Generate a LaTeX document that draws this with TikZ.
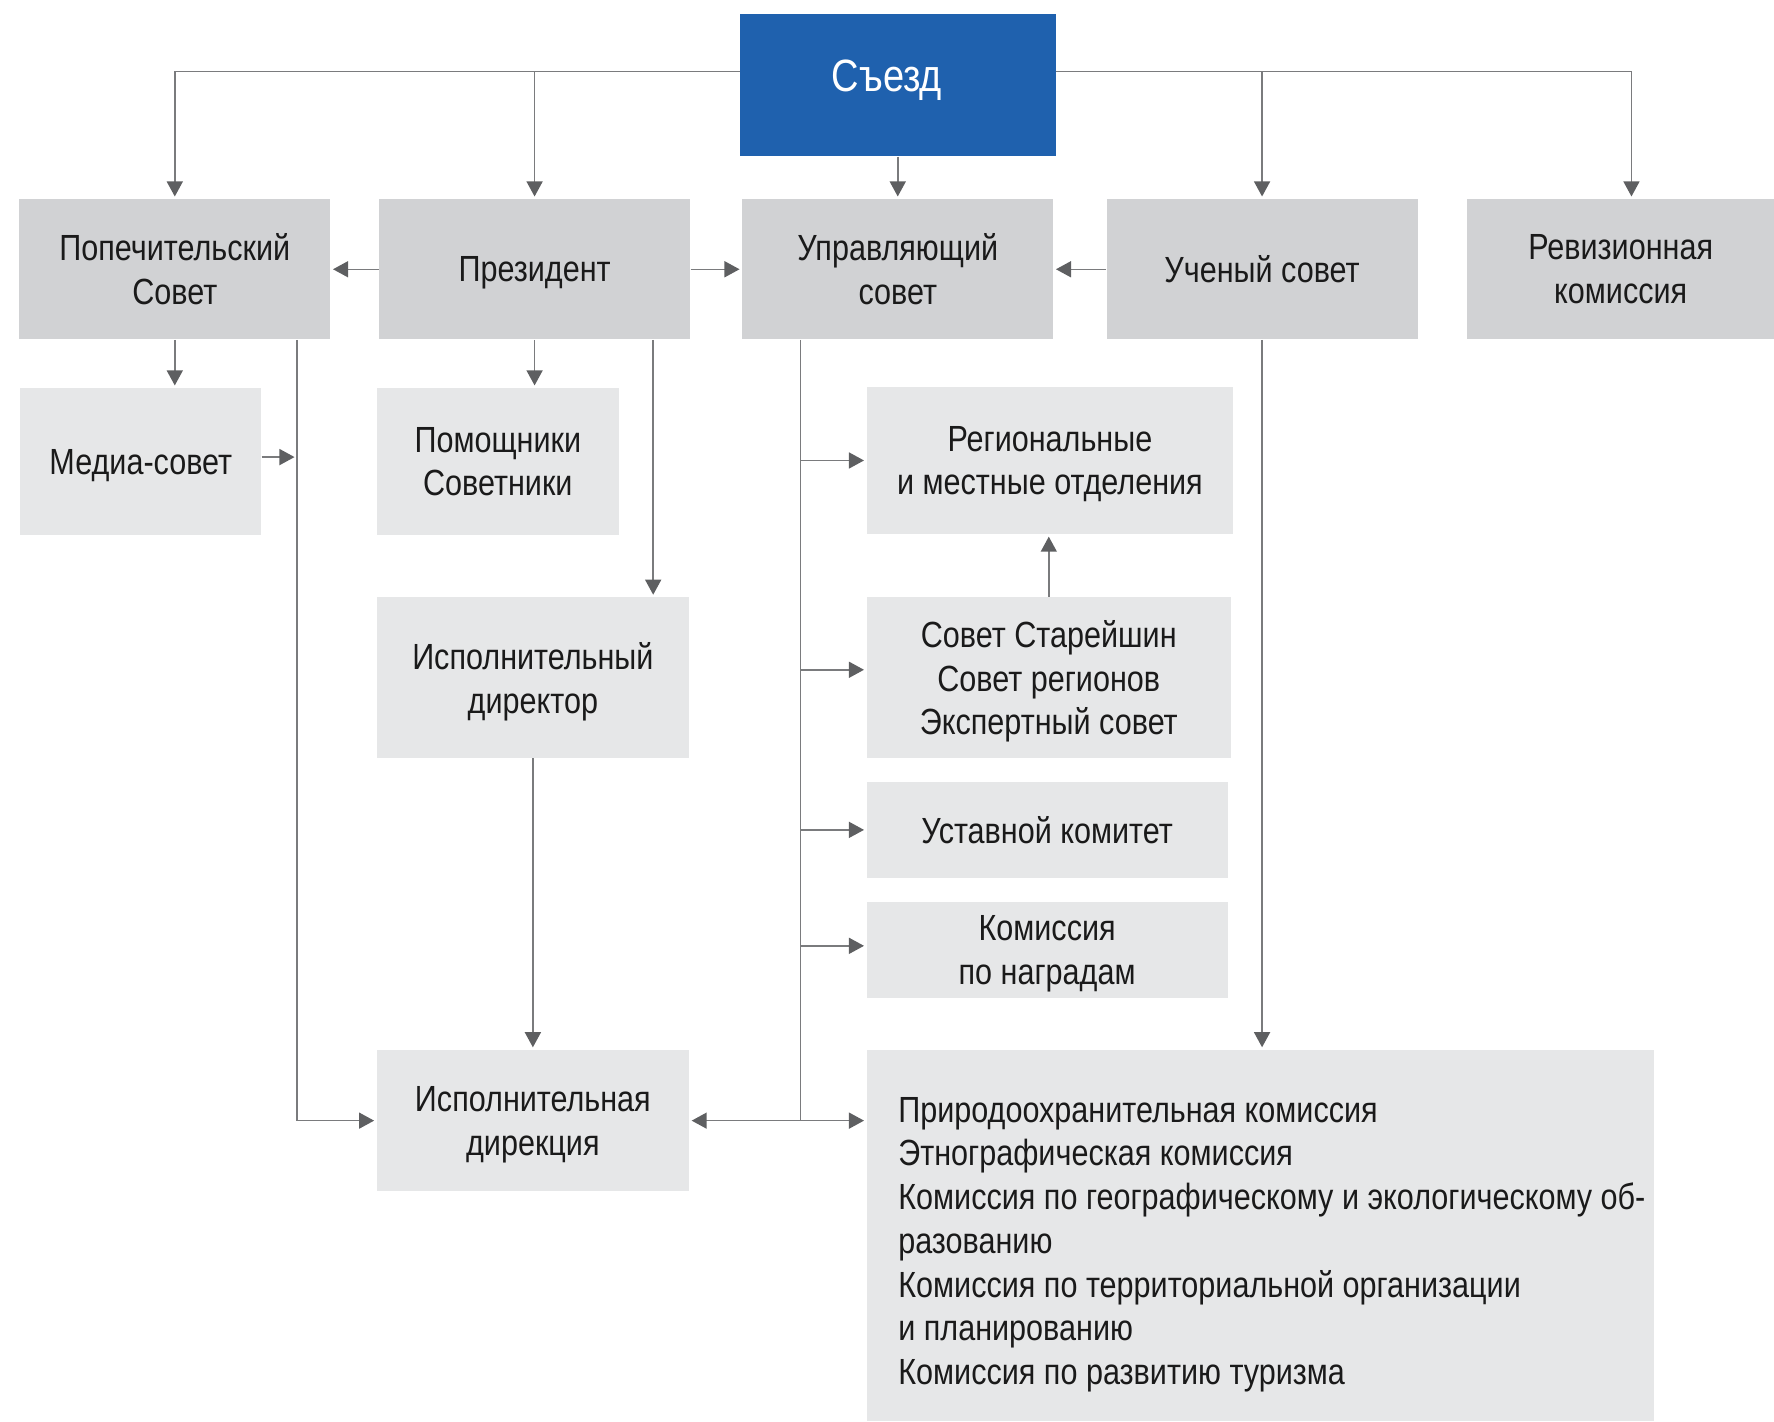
\documentclass[tikz,border=0pt]{standalone}
\usepackage{fontspec}
\setmainfont{Liberation Sans}[FakeStretch=0.84]
\usetikzlibrary{arrows.meta,calc}
\definecolor{sblue}{HTML}{1F61AE}
\definecolor{gdark}{HTML}{D1D2D4}
\definecolor{glight}{HTML}{E6E7E8}
\definecolor{lnc}{HTML}{7A7B7D}
\definecolor{tipc}{HTML}{5E5F61}
\definecolor{txt}{HTML}{1A1A1A}
\tikzset{
  dims/.style 2 args={minimum width={#1*0.6pt}, minimum height={#2*0.6pt}},
  boxd/.style={rectangle, inner sep=0pt, fill=gdark, text=txt, align=center, text depth=0pt, font=\fontsize{19.3}{23.2}\selectfont},
  boxl/.style={rectangle, inner sep=0pt, fill=glight, text=txt, align=center, text depth=0pt, font=\fontsize{19.3}{23.2}\selectfont},
  ln/.style={draw=lnc, line width=0.8pt},
  arr/.style={ln, -{Triangle[length=8pt,width=8.5pt,color=tipc]}, shorten >=1.2pt},
}
\begin{document}
\begin{tikzpicture}[x=0.6pt,y=-0.6pt]
\useasboundingbox (0,0) rectangle (1568,1256);
% boxes
\node[rectangle, inner sep=0pt, fill=sblue, dims={279}{126}] (s) at (793.5,75) {};
\node[text=white, inner sep=0pt, font=\fontsize{24}{28}\selectfont] (stxt) at (784,71) {Съезд};
\node[boxd, dims={275}{124}] (p)  at (154.5,238) {Попечительский\\Совет};
\node[boxd, dims={275}{124}] (pr) at (472.5,238) {Президент};
\node[boxd, dims={275}{124}] (u)  at (793.5,238) {Управляющий\\совет};
\node[boxd, dims={275}{124}] (uc) at (1115.5,238) {Ученый совет};
\node[boxd, dims={271}{124}] (r)  at (1432.5,238) {Ревизионная\\комиссия};
\node[boxl, dims={213}{130}] (m)   at (124.5,408) {Медиа-совет};
\node[boxl, dims={214}{130}] (pom) at (440,408) {Помощники\\Советники};
\node[boxl, dims={324}{130}] (reg) at (928,407) {Региональные\\и местные отделения};
\node[boxl, dims={276}{142}] (id)  at (471,599) {Исполнительный\\директор};
\node[boxl, dims={322}{142}] (ss)  at (927,599) {Совет Старейшин\\Совет регионов\\Экспертный совет};
\node[boxl, dims={319}{85}]  (ust) at (925.5,733.5) {Уставной комитет};
\node[boxl, dims={319}{85}]  (kn)  at (925.5,839.5) {Комиссия\\по наградам};
\node[boxl, dims={276}{125}] (idr) at (471,990.5) {Исполнительная\\дирекция};
\node[boxl, dims={696}{328}] (big) at (1114,1092) {};
\node[anchor=west, inner sep=0pt, align=left, text=txt, font=\fontsize{19.3}{23.2}\selectfont] (bigtxt) at ($(big.west)+(28,8)$)
 {Природоохранительная комиссия\\Этнографическая комиссия\\Комиссия по географическому и экологическому об-\\разованию\\Комиссия по территориальной организации\\и планированию\\Комиссия по развитию туризма};
% connectors from Съезд
\coordinate (sL) at (654,63);
\coordinate (sR) at (933,63);
\draw[arr] (sL) -| (p.north);
\draw[arr] (sL -| pr.north) -- (pr.north);
\draw[arr] (s.south) -- (u.north);
\draw[arr] (sR) -| (uc.north);
\draw[arr] (sR) -| ($(r.north)+(9.5,0)$);
% row 1 horizontals
\draw[arr] (pr.west) -- (p.east);
\draw[arr] (pr.east) -- (u.west);
\draw[arr] (uc.west) -- (u.east);
% downward
\draw[arr] (p.south) -- (p.south |- m.north);
\draw[arr] (pr.south) -- (pr.south |- pom.north);
\coordinate (pv) at ($(p.south east)+(-30,0)$);
\draw[arr] (pv) |- (idr.west);
\draw[arr] ($(m.east)+(0,-4)$) -- ($(m.east)+(31,-4)$);
\coordinate (prd) at ($(pr.south east)+(-33,0)$);
\draw[arr] (prd) -- (prd |- id.north);
\draw[arr] (id.south) -- (idr.north);
% Управляющий совет branches
\coordinate (ud) at ($(u.south west)+(52,0)$);
\coordinate (uj) at (ud |- idr.east);
\draw[ln] (ud) -- (uj);
\draw[arr] (ud |- reg.west) -- (reg.west);
\coordinate (ssw) at ($(ss.west)+(0,-7)$);
\draw[arr] (ud |- ssw) -- (ssw);
\draw[arr] (ud |- ust.west) -- (ust.west);
\coordinate (knw) at ($(kn.west)+(0,-3.5)$);
\draw[arr] (ud |- knw) -- (knw);
\draw[arr] (uj) -- (idr.east);
\draw[arr] (uj) -- (uj -| big.west);
\draw[arr] (ss.north) -- (ss.north |- reg.south);
\draw[arr] (uc.south) -- (uc.south |- big.north);
\end{tikzpicture}
\end{document}
